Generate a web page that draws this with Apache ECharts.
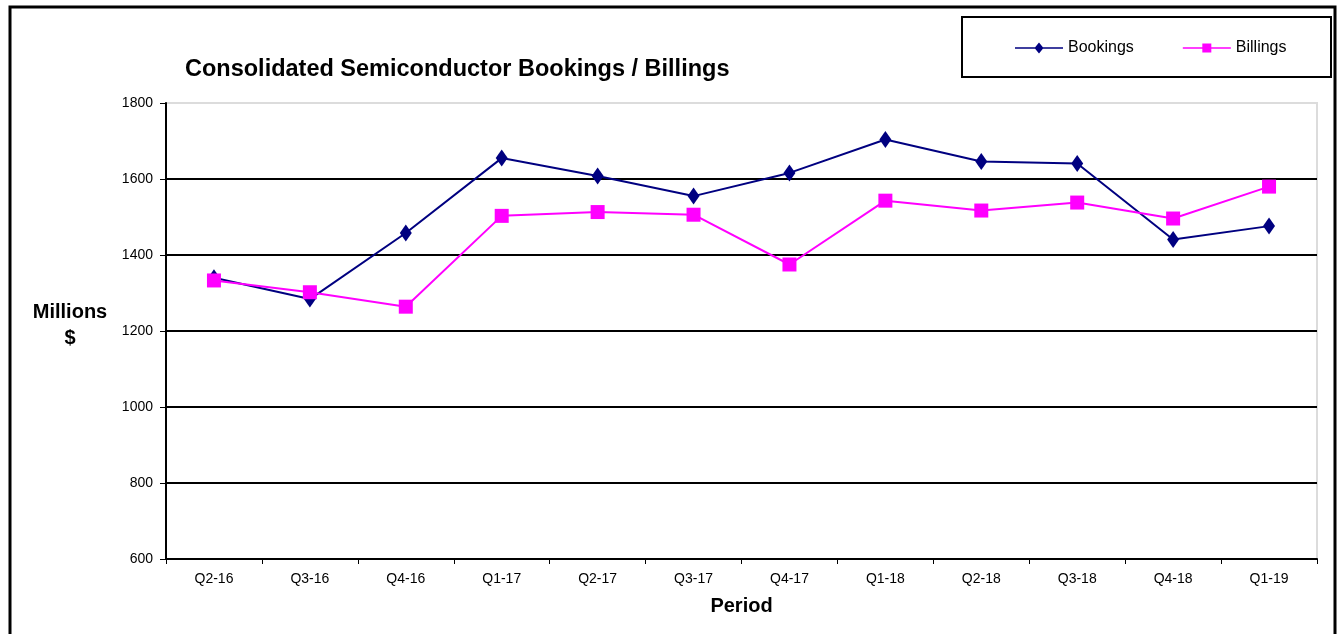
<!DOCTYPE html>
<html>
<head>
<meta charset="utf-8">
<script src="https://cdn.jsdelivr.net/npm/echarts@6/dist/echarts.min.js"></script>
<style>
  html, body { margin: 0; padding: 0; background: #fff; }
  #chart { width: 1337px; height: 634px; }
</style>
</head>
<body>
<div id="chart"></div>
<script>
// Quarterly periods on the category axis
const periods = ['Q2-16', 'Q3-16', 'Q4-16', 'Q1-17', 'Q2-17', 'Q3-17', 'Q4-17', 'Q1-18', 'Q2-18', 'Q3-18', 'Q4-18', 'Q1-19'];
// Consolidated semiconductor bookings, millions of dollars
const bookings = [1340, 1284, 1458, 1655, 1608, 1555, 1616, 1704, 1646, 1641, 1441, 1476];
// Consolidated semiconductor billings, millions of dollars
const billings = [1333, 1302, 1264, 1503, 1513, 1506, 1375, 1543, 1517, 1538, 1496, 1580];
// Value axis range and step
const yMin = 600, yMax = 1800, yStep = 200;

const FONT = '"Liberation Sans", Arial, sans-serif';

// Legend icons: a short line with the series marker at its centre
const lineDiamondIcon = 'path://M0,5.3L48,5.3L48,6.7L0,6.7Z M24,0.5L28.5,6L24,11.5L19.5,6Z';
const lineSquareIcon = 'path://M0,5.3L48,5.3L48,6.7L0,6.7Z M19.5,1.5L28.5,1.5L28.5,10.5L19.5,10.5Z';

const chart = echarts.init(document.getElementById('chart'), null, { renderer: 'canvas' });

chart.setOption({
  animation: false,
  backgroundColor: '#fff',
  title: {
    text: 'Consolidated Semiconductor Bookings / Billings',
    left: 180,
    top: 53,
    textStyle: { fontFamily: FONT, fontSize: 23.5, fontWeight: 'bold', color: '#000' }
  },
  legend: {
    left: 1010,
    top: 35,
    itemGap: 49,
    itemWidth: 48,
    itemHeight: 12,
    textStyle: { fontFamily: FONT, fontSize: 16, color: '#000' },
    data: [
      { name: 'Bookings', icon: lineDiamondIcon },
      { name: 'Billings', icon: lineSquareIcon }
    ]
  },
  grid: {
    left: 166, right: 20, top: 103, bottom: 75,
    show: true, borderColor: '#dcdcdc', borderWidth: 2, backgroundColor: '#fff'
  },
  xAxis: {
    type: 'category',
    data: periods,
    boundaryGap: true,
    name: 'Period',
    nameLocation: 'middle',
    nameGap: 37,
    nameTextStyle: { fontFamily: FONT, fontSize: 20, fontWeight: 'bold', color: '#000' },
    axisLine: { lineStyle: { color: '#000', width: 2 } },
    axisTick: { show: true, alignWithLabel: false, length: 5, lineStyle: { color: '#000', width: 1 } },
    axisLabel: { fontFamily: FONT, fontSize: 14, color: '#000', margin: 13 },
    splitLine: { show: false }
  },
  yAxis: {
    type: 'value',
    min: yMin, max: yMax, interval: yStep,
    axisLine: { show: true, lineStyle: { color: '#000', width: 2 } },
    axisTick: { show: true, length: 6, lineStyle: { color: '#000', width: 1 } },
    axisLabel: { fontFamily: FONT, fontSize: 14, color: '#000', margin: 13, formatter: v => String(v) },
    splitLine: { show: true, showMinLine: false, showMaxLine: false, lineStyle: { color: '#000', width: 2 } }
  },
  series: [
    {
      name: 'Bookings',
      type: 'line',
      data: bookings,
      symbol: 'diamond',
      symbolSize: [12, 17],
      itemStyle: { color: '#000080' },
      lineStyle: { color: '#000080', width: 2 },
      z: 3
    },
    {
      name: 'Billings',
      type: 'line',
      data: billings,
      symbol: 'rect',
      symbolSize: 14,
      itemStyle: { color: '#ff00ff' },
      lineStyle: { color: '#ff00ff', width: 2 },
      z: 4
    }
  ],
  graphic: [
    // Outer chart frame
    { type: 'rect', shape: { x: 10, y: 7, width: 1325, height: 640 }, style: { fill: null, stroke: '#000', lineWidth: 3 }, silent: true, z: -1 },
    // Legend frame
    { type: 'rect', shape: { x: 962, y: 17, width: 369, height: 60 }, style: { fill: null, stroke: '#000', lineWidth: 2 }, silent: true },
    // Vertical axis caption
    { type: 'text', x: 70, y: 312, style: { text: 'Millions', fontFamily: FONT, fontSize: 20, fontWeight: 'bold', fill: '#000', align: 'center', verticalAlign: 'middle' }, silent: true },
    { type: 'text', x: 70, y: 338, style: { text: '$', fontFamily: FONT, fontSize: 20, fontWeight: 'bold', fill: '#000', align: 'center', verticalAlign: 'middle' }, silent: true }
  ]
});
</script>
</body>
</html>
